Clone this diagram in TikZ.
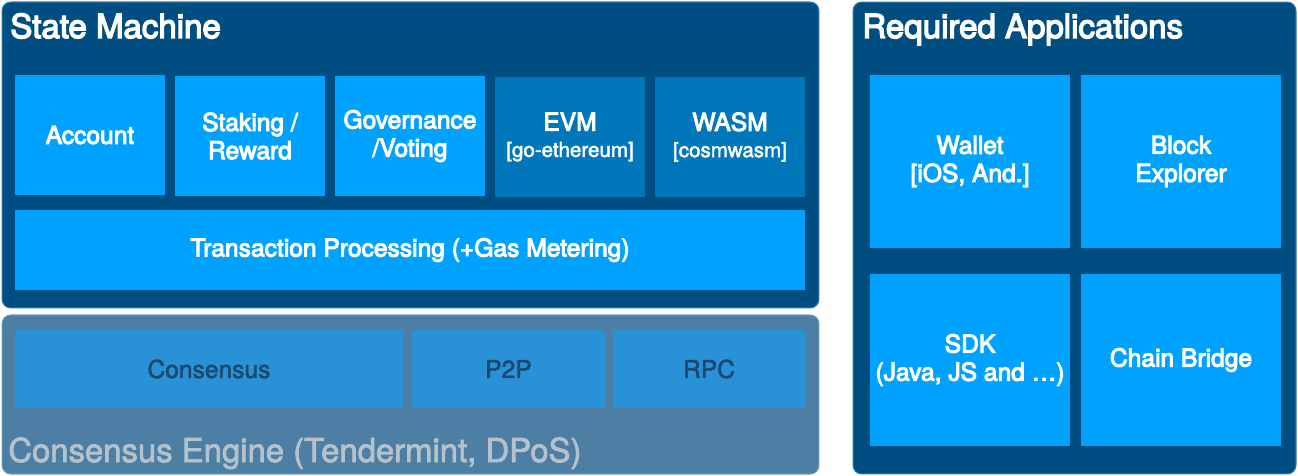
\documentclass[tikz,border=0pt]{standalone}
\usepackage{fontspec}
\setmainfont{TeX Gyre Heros}
\newfontfamily\medfont{TeX Gyre Heros}[FakeBold=4]
\newfontfamily\semifont{TeX Gyre Heros}[FakeBold=2.2]
\usetikzlibrary{positioning}

\definecolor{panelblue}{HTML}{004E81}
\definecolor{panelrim}{HTML}{2A78AE}
\definecolor{brightblue}{HTML}{00A2FF}
\definecolor{vmblue}{HTML}{0076BB}
\definecolor{enginebg}{HTML}{4C7FA3}
\definecolor{engineblk}{HTML}{2991D6}
\definecolor{enginetxt}{HTML}{1B4A70}
\definecolor{enginettl}{HTML}{B5C2CC}

\newcommand{\subtxt}[1]{{\semifont\fontsize{11.7}{14}\selectfont #1}}

\begin{document}
\begin{tikzpicture}[
    x=0.02cm, y=-0.02cm,
    panel/.style={draw=panelrim, line width=0.6pt, fill=panelblue, rounded corners=5pt, inner sep=0pt},
    blk/.style={fill=brightblue, text=white, align=center, inner sep=0pt,
        minimum width=3cm, minimum height=2.4cm, font=\medfont\fontsize{14}{16}\selectfont},
    vmblk/.style={blk, fill=vmblue},
    appblk/.style={blk, minimum width=4cm, minimum height=3.45cm},
    engblk/.style={fill=engineblk, text=enginetxt, inner sep=0pt,
        minimum height=1.56cm, font=\semifont\fontsize{14}{16}\selectfont},
    ttl/.style={anchor=base west, inner sep=0pt, text=white, font=\medfont\fontsize{18.8}{20}\selectfont},
]
\useasboundingbox (0,0) rectangle (1298,476);

% ── Outer panels ──
\node[panel, minimum width=16.34cm, minimum height=6.12cm] (SM) at (410.5,155) {};
\node[panel, draw=enginebg!80!white, fill=enginebg, minimum width=16.34cm, minimum height=3.18cm] (CE) at (410.5,394.5) {};
\node[panel, minimum width=8.86cm, minimum height=9.44cm] (RA) at (1074.5,238) {};

% ── Panel titles ──
\node[ttl] (SMttl) at (10,38) {State Machine};
\node[ttl] (RAttl) at (862,38) {Required Applications};
\node[ttl, text=enginettl, font=\semifont\fontsize{18.7}{20}\selectfont] (CEttl) at (8,462) {Consensus Engine (Tendermint, DPoS)};

% ── State machine modules ──
\node[blk] (Account) at (90,135) {Account};
\node[blk] (Staking) at (250,136) {Staking /\\Reward};
\node[blk] (Gov) at (410,136) {Governance\\/Voting};
\node[vmblk] (EVM) at (570,137) {EVM\\[-1pt]\subtxt{[go-ethereum]}};
\node[vmblk] (WASM) at (730,137) {WASM\\[-1pt]\subtxt{[cosmwasm]}};
\node[blk, minimum width=15.8cm, minimum height=1.6cm] (Tx) at (410,250) {Transaction Processing (+Gas Metering)};

% ── Consensus engine modules ──
\node[engblk, minimum width=7.76cm] (Consensus) at (209,369) {Consensus};
\node[engblk, minimum width=3.86cm] (P2P) at (508.5,369) {P2P};
\node[engblk, minimum width=3.84cm] (RPC) at (709,369) {RPC};

% ── Applications ──
\node[appblk] (Wallet) at (970,161.5) {Wallet\\{[iOS, And.]}};
\node[appblk] (Explorer) at (1181,161.5) {Block\\Explorer};
\node[appblk] (SDK) at (970,360) {SDK\\(Java, JS and …)};
\node[appblk] (Bridge) at (1181,360) {Chain Bridge};

\end{tikzpicture}
\end{document}
